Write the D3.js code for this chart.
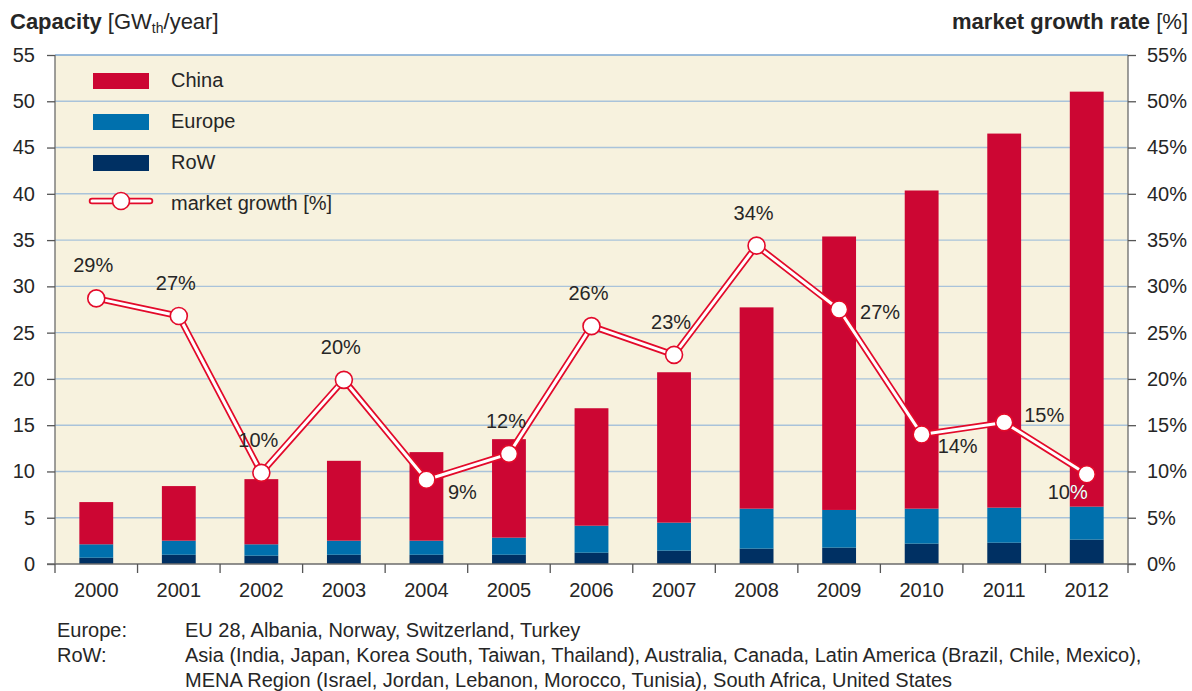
<!DOCTYPE html>
<html>
<head>
<meta charset="utf-8">
<script src="https://cdn.jsdelivr.net/npm/d3@7"></script>
<style>
  body { margin: 0; background: #fff; }
  svg { display: block; font-family: "Liberation Sans", Arial, sans-serif; }
</style>
</head>
<body>
<svg id="chart" width="1192" height="691"></svg>
<script>
// data
var years = ["2000", "2001", "2002", "2003", "2004", "2005", "2006", "2007", "2008", "2009", "2010", "2011", "2012"];
var rowValues = [0.68, 1.0, 0.9, 1.0, 1.0, 1.0, 1.22, 1.44, 1.66, 1.77, 2.2, 2.3, 2.63];
var europeValues = [1.45, 1.52, 1.23, 1.52, 1.52, 1.85, 2.92, 3.03, 4.32, 4.07, 3.78, 3.79, 3.57];
var chinaValues = [4.56, 5.9, 7.04, 8.63, 9.57, 10.64, 12.69, 16.25, 21.75, 29.55, 34.38, 40.42, 44.84];
var growthValues = [28.7, 26.8, 9.85, 19.9, 9.1, 11.9, 25.7, 22.6, 34.4, 27.5, 14.0, 15.3, 9.7];
var growthLabels = ["29%", "27%", "10%", "20%", "9%", "12%", "26%", "23%", "34%", "27%", "14%", "15%", "10%"];
var labelSpots = ["top", "top", "top", "top", "rightLow", "top", "top", "top", "top", "right", "rightLow", "rightHigh", "leftLow"];
var yTicks = [0, 5, 10, 15, 20, 25, 30, 35, 40, 45, 50, 55];
var legendItems = ["China", "Europe", "RoW", "market growth [%]"];
var notes = [
  ["Europe:", "EU 28, Albania, Norway, Switzerland, Turkey"],
  ["RoW:", "Asia (India, Japan, Korea South, Taiwan, Thailand), Australia, Canada, Latin America (Brazil, Chile, Mexico),"],
  ["", "MENA Region (Israel, Jordan, Lebanon, Morocco, Tunisia), South Africa, United States"]
];

var colors = {row: "#003063", europe: "#0070ad", china: "#cc0633"};
var red = "#e30a2a";
var textCol = "#262626";

var plotL = 55, plotR = 1128, plotT = 55, plotB = 564;
var svg = d3.select("#chart");

var x = d3.scaleBand().domain(years).range([plotL, plotR]).paddingInner(0.59).paddingOuter(0.295);
var y = d3.scaleLinear().domain([0, 55]).range([plotB, plotT]);

// plot background
svg.append("rect")
  .attr("x", plotL).attr("y", plotT)
  .attr("width", plotR - plotL).attr("height", plotB - plotT)
  .attr("fill", "#f7f2de");

// grid lines
svg.append("g").selectAll("line")
  .data(yTicks.filter(function (d) { return d > 0; }))
  .join("line")
  .attr("x1", plotL).attr("x2", plotR)
  .attr("y1", function (d) { return y(d); })
  .attr("y2", function (d) { return y(d); })
  .attr("stroke", function (d) { return d == 55 ? "#7aa6d2" : "#a9c3da"; })
  .attr("stroke-width", 1.4);

// stacked bars
var rows = years.map(function (yr, i) {
  return {year: yr, row: rowValues[i], europe: europeValues[i], china: chinaValues[i]};
});
var stack = d3.stack().keys(["row", "europe", "china"]);
var series = stack(rows);

svg.append("g").selectAll("g")
  .data(series)
  .join("g")
  .attr("fill", function (d) { return colors[d.key]; })
  .selectAll("rect")
  .data(function (d) { return d; })
  .join("rect")
  .attr("x", function (d) { return x(d.data.year); })
  .attr("width", x.bandwidth())
  .attr("y", function (d) { return y(d[1]); })
  .attr("height", function (d) { return y(d[0]) - y(d[1]); });

// clip path of the china bars, used to knock out labels lying on them
var clip = svg.append("clipPath").attr("id", "barclip");
clip.selectAll("rect")
  .data(series[2])
  .join("rect")
  .attr("x", function (d) { return x(d.data.year); })
  .attr("width", x.bandwidth())
  .attr("y", function (d) { return y(d[1]); })
  .attr("height", function (d) { return y(d[0]) - y(d[1]); });

// axes
var step = x.step();
var edge = step * x.paddingInner() / 2;

var leftAxis = svg.append("g")
  .attr("transform", "translate(" + plotL + ",0)")
  .call(d3.axisLeft(y).tickValues(yTicks).tickSize(8).tickPadding(12));
var rightAxis = svg.append("g")
  .attr("transform", "translate(" + plotR + ",0)")
  .call(d3.axisRight(y).tickValues(yTicks).tickSize(8).tickPadding(11)
    .tickFormat(function (d) { return d + "%"; }));
var bottomAxis = svg.append("g")
  .attr("transform", "translate(0," + plotB + ")")
  .call(d3.axisBottom(x).tickSize(0).tickPadding(19));

[leftAxis, rightAxis, bottomAxis].forEach(function (ax) {
  ax.select(".domain").attr("stroke", "#6b6b6b").attr("stroke-width", 1.3);
  ax.selectAll(".tick line").attr("stroke", "#555").attr("stroke-width", 1.3);
  ax.selectAll("text").attr("fill", textCol).attr("font-size", 20)
    .attr("font-family", "Liberation Sans, Arial, sans-serif");
});
leftAxis.select(".domain").attr("d", "M0," + plotT + "V" + plotB);
rightAxis.select(".domain").attr("d", "M0," + plotT + "V" + plotB);
bottomAxis.select(".domain").attr("d", "M" + (plotL - 8) + ",0H" + (plotR + 8));

// x tick marks sit between the bars
var boundaries = years.map(function (yr) { return x(yr) - edge; });
boundaries.push(x(years[years.length - 1]) + x.bandwidth() + edge);
svg.append("g").selectAll("line")
  .data(boundaries)
  .join("line")
  .attr("x1", function (d) { return d; }).attr("x2", function (d) { return d; })
  .attr("y1", plotB).attr("y2", plotB + 9)
  .attr("stroke", "#555").attr("stroke-width", 1.3);

// growth line, drawn as a red outline with a white core
var cx = function (i) { return x(years[i]) + x.bandwidth() / 2; };
var line = d3.line()
  .x(function (d, i) { return cx(i); })
  .y(function (d) { return y(d); });

svg.append("path").datum(growthValues)
  .attr("d", line).attr("fill", "none")
  .attr("stroke", red).attr("stroke-width", 6.5).attr("stroke-linejoin", "round");
svg.append("path").datum(growthValues)
  .attr("d", line).attr("fill", "none")
  .attr("stroke", "#fff").attr("stroke-width", 3).attr("stroke-linejoin", "round");

svg.append("g").selectAll("circle")
  .data(growthValues)
  .join("circle")
  .attr("cx", function (d, i) { return cx(i); })
  .attr("cy", function (d) { return y(d); })
  .attr("r", 8.5)
  .attr("fill", "#fff").attr("stroke", red).attr("stroke-width", 1.6);

// value labels next to the markers
var spotOffset = {
  top: [-3, -26],
  right: [41, 9],
  rightLow: [36, 19],
  rightHigh: [40, 0],
  leftLow: [-19, 25]
};
function drawLabels(g, fill) {
  g.selectAll("text")
    .data(growthValues)
    .join("text")
    .attr("x", function (d, i) { return cx(i) + spotOffset[labelSpots[i]][0]; })
    .attr("y", function (d, i) { return y(d) + spotOffset[labelSpots[i]][1]; })
    .attr("text-anchor", "middle")
    .attr("font-size", 20)
    .attr("fill", fill)
    .text(function (d, i) { return growthLabels[i]; });
}
drawLabels(svg.append("g"), textCol);
drawLabels(svg.append("g").attr("clip-path", "url(#barclip)"), "#fff");

// legend
var legend = svg.append("g");
var lgKeys = ["china", "europe", "row"];
lgKeys.forEach(function (k, i) {
  legend.append("rect")
    .attr("x", 93).attr("y", 73 + i * 41)
    .attr("width", 56).attr("height", 16)
    .attr("fill", colors[k]);
});
legend.append("line")
  .attr("x1", 92).attr("x2", 150).attr("y1", 201).attr("y2", 201)
  .attr("stroke", red).attr("stroke-width", 6.5).attr("stroke-linecap", "round");
legend.append("line")
  .attr("x1", 92).attr("x2", 150).attr("y1", 201).attr("y2", 201)
  .attr("stroke", "#fff").attr("stroke-width", 3).attr("stroke-linecap", "round");
legend.append("circle")
  .attr("cx", 121).attr("cy", 201).attr("r", 8.5)
  .attr("fill", "#fff").attr("stroke", red).attr("stroke-width", 1.6);
legend.selectAll("text")
  .data(legendItems)
  .join("text")
  .attr("x", 171)
  .attr("y", function (d, i) { return 87 + i * 41; })
  .attr("font-size", 20)
  .attr("fill", textCol)
  .text(function (d) { return d; });

// axis titles
var lt = svg.append("text").attr("x", 10).attr("y", 29).attr("font-size", 22).attr("fill", textCol);
lt.append("tspan").attr("font-weight", "bold").text("Capacity ");
lt.append("tspan").text("[GW");
lt.append("tspan").attr("font-size", 14).attr("dy", 4).text("th");
lt.append("tspan").attr("dy", -4).text("/year]");

var rt = svg.append("text").attr("x", 1188).attr("y", 29).attr("text-anchor", "end")
  .attr("font-size", 22).attr("fill", textCol);
rt.append("tspan").attr("font-weight", "bold").text("market growth rate ");
rt.append("tspan").text("[%]");

// footnotes
var foot = svg.append("g").attr("font-size", 20).attr("fill", textCol);
notes.forEach(function (n, i) {
  foot.append("text").attr("x", 57).attr("y", 637 + i * 25).text(n[0]);
  foot.append("text").attr("x", 185).attr("y", 637 + i * 25).text(n[1]);
});
</script>
</body>
</html>
